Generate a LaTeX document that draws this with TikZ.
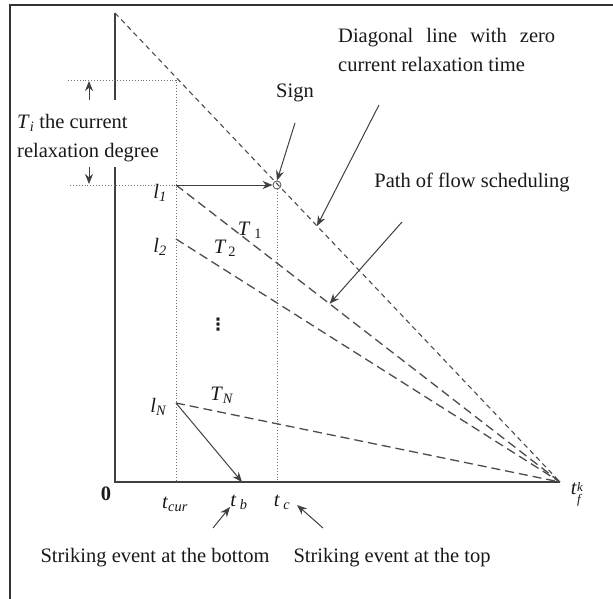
\documentclass[tikz,border=0pt]{standalone}
\usepackage{fontspec}
\setmainfont{Liberation Serif}
\newfontfamily\symfont{DejaVu Sans}
\usetikzlibrary{arrows.meta}
\usetikzlibrary{positioning, calc}

\newcommand{\iv}[2]{\textit{#1}\textsubscript{\textit{#2}}}

\tikzset{
    axis/.style={draw=black!75, line width=1.4pt},
    guide/.style={draw=black!55, line width=0.9pt, dotted},
    diag/.style={draw=black!70, line width=1.1pt, dash pattern=on 5pt off 4pt},
    flow/.style={draw=black!70, line width=1.3pt, dash pattern=on 9pt off 5pt},
    pointer/.style={draw=black!75, line width=1pt, -{Stealth[length=10pt,width=8pt]}},
    lbl/.style={font=\fontsize{20.5}{29}\selectfont, text=black!90, inner sep=0pt},
}

\begin{document}
\begin{tikzpicture}[x=1pt, y=-1pt]
    \useasboundingbox (0,0) rectangle (613,599);
    \draw[black!80, line width=1.5pt] (10,599) -- (10,5) -- (613,5);

    % axes and levels
    \coordinate (o) at (115,482);
    \coordinate (ytop) at (115,13);
    \coordinate (ycut1) at (115,100);
    \coordinate (ycut2) at (115,167);
    \coordinate (tfk) at (560,482);
    \coordinate (top) at (176,80);
    \coordinate (l1) at (176,185);
    \coordinate (l2) at (176,239);
    \coordinate (lN) at (176,403);
    \coordinate (tcur) at (176,482);
    \coordinate (tb) at (242,482);
    \coordinate (tc) at (277,482);
    \coordinate (gl1) at (68,80);
    \coordinate (gl2) at (70,185);
    \node[draw=black!70, circle, minimum size=8pt, inner sep=0pt, line width=0.8pt] (sign) at (277,185) {};

    \draw[axis] (ytop) -- (ycut1) (ycut2) -- (o) -- (tfk);
    \draw[guide] (gl1) -- (top) -- (tcur);
    \draw[guide] (gl2) -- (l1);
    \draw[guide] (sign) -- (tc);

    \draw[diag] (ytop) -- (tfk);
    \draw[flow] (l1) -- (tfk);
    \draw[flow] (l2) -- (tfk);
    \draw[flow] (lN) -- (tfk);

    \draw[pointer] (l1) -- (sign.west);
    \draw[pointer] (lN) -- (tb);

    % relaxation degree
    \coordinate (up0) at (89,100);
    \coordinate (up1) at (89,81);
    \coordinate (dn0) at (89,167);
    \coordinate (dn1) at (89,184);
    \draw[pointer] (up0) -- (up1);
    \draw[pointer] (dn0) -- (dn1);
    \node[lbl, align=left, anchor=west] (relax) at (17,138) {\iv{T}{i} the current\\relaxation degree};

    % level labels
    \node[lbl, left=9pt of l1, yshift=-8pt] (nl1) {\iv{l}{1}};
    \node[lbl, left=9pt of l2, yshift=-8pt] (nl2) {\iv{l}{2}};
    \node[lbl, left=9pt of lN, yshift=-4pt] (nlN) {\iv{l}{N}};
    \node[lbl] (T1) at (250,230) {\textit{T}\hspace{4pt}\textsubscript{1}};
    \node[lbl] (T2) at (225,248) {\textit{T}\hspace{2pt}\textsubscript{2}};
    \node[lbl] (TN) at (222,395) {\iv{T}{N}};
    \node[lbl, font=\fontsize{17}{17}\selectfont\symfont\bfseries] (dots) at (218,325) {⋮};

    % time axis labels
    \node[lbl] (zero) at (106,494) {\textbf{0}};
    \node[lbl] (ncur) at (175,504) {\iv{t}{cur}};
    \node[lbl] (nb) at (239,502) {\textit{t}\,\textsubscript{\textit{b}}};
    \node[lbl] (nc) at (282,502) {\textit{t}\,\textsubscript{\textit{c}}};
    \node[lbl] (nf) at (577,494)
        {\textit{t}\raisebox{-9pt}{\fontsize{13}{17}\selectfont\shortstack[l]{\textit{k}\\\textit{f}}}};

    % annotations
    \node[lbl] (signtxt) at (295,93) {Sign};
    \coordinate (signtail) at (295,123);
    \draw[pointer] (signtail) -- (sign.north);

    \node[lbl, align=left, anchor=north west] (diagtxt) at (338,28)
        {\makebox[217pt][s]{Diagonal line with zero}\\current relaxation time};
    \coordinate (dtail) at (379,105);
    \coordinate (dhit) at ($(ytop)!0.454!(tfk)$);
    \draw[pointer] (dtail) -- (dhit);

    \node[lbl] (pathtxt) at (472,182) {Path of flow scheduling};
    \coordinate (ptail) at (402,222);
    \coordinate (phit) at ($(l1)!0.40!(tfk)$);
    \draw[pointer] (ptail) -- (phit);

    \node[lbl] (sbot) at (155,558) {Striking event at the bottom};
    \node[lbl] (stop) at (392,558) {Striking event at the top};
    \coordinate (btail) at (213,528);
    \coordinate (bhead) at (230,507);
    \coordinate (ctail) at (323,528);
    \coordinate (chead) at (297,505);
    \draw[pointer] (btail) -- (bhead);
    \draw[pointer] (ctail) -- (chead);
\end{tikzpicture}
\end{document}
